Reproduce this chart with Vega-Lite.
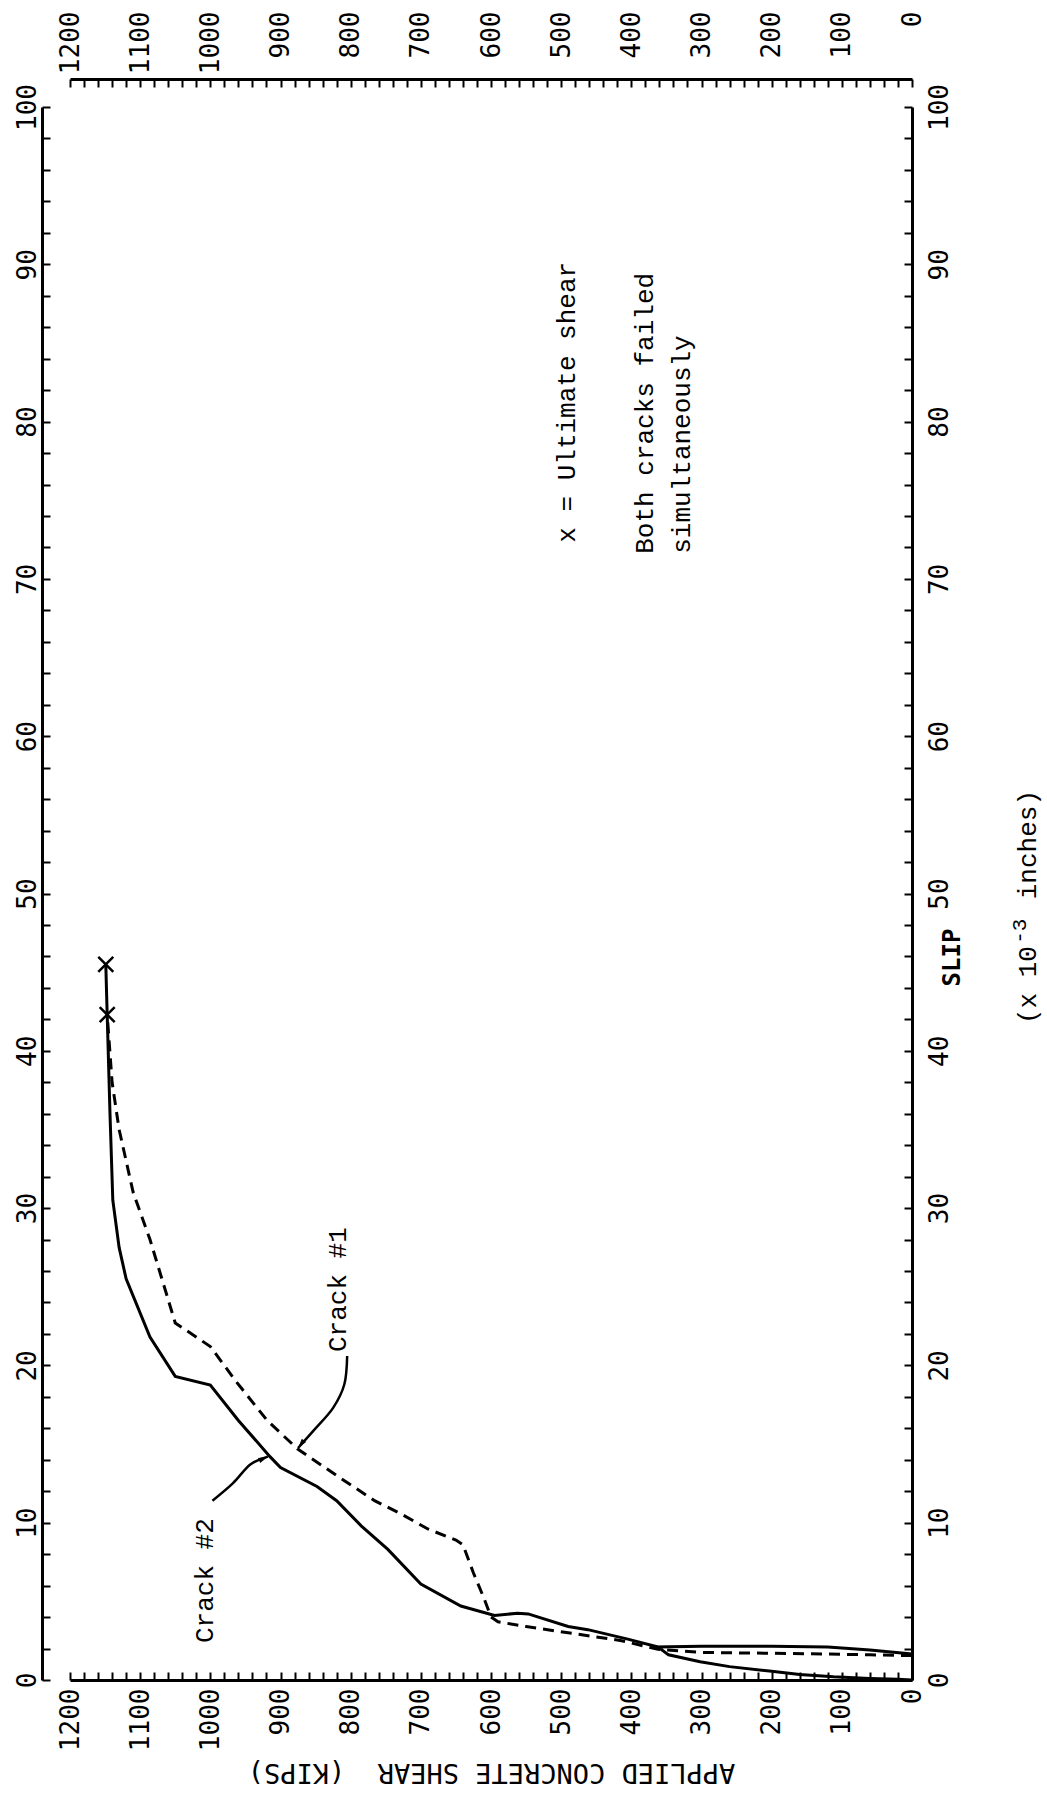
{
  "$schema": "https://vega.github.io/schema/vega-lite/v6.json",
  "width": 842,
  "height": 1573,
  "autosize": {"type": "none"},
  "padding": {"left": 70, "top": 107, "right": 135, "bottom": 121},
  "background": "white",
  "config": {"view": {"stroke": null}},
  "datasets": {
    "curves": [
      {"crack": "Crack #2", "i": 1, "shear": 0, "slip": 0},
      {"crack": "Crack #2", "i": 2, "shear": 20, "slip": 0.05},
      {"crack": "Crack #2", "i": 3, "shear": 60, "slip": 0.1},
      {"crack": "Crack #2", "i": 4, "shear": 112, "slip": 0.2},
      {"crack": "Crack #2", "i": 5, "shear": 160, "slip": 0.35},
      {"crack": "Crack #2", "i": 6, "shear": 200, "slip": 0.55},
      {"crack": "Crack #2", "i": 7, "shear": 260, "slip": 0.85},
      {"crack": "Crack #2", "i": 8, "shear": 302, "slip": 1.16},
      {"crack": "Crack #2", "i": 9, "shear": 347, "slip": 1.6},
      {"crack": "Crack #2", "i": 10, "shear": 362, "slip": 2.1},
      {"crack": "Crack #2", "i": 11, "shear": 300, "slip": 2.15},
      {"crack": "Crack #2", "i": 12, "shear": 200, "slip": 2.15},
      {"crack": "Crack #2", "i": 13, "shear": 120, "slip": 2.1},
      {"crack": "Crack #2", "i": 14, "shear": 60, "slip": 1.9},
      {"crack": "Crack #2", "i": 15, "shear": 0, "slip": 1.65},
      {"crack": "Crack #2", "i": 16, "shear": 60, "slip": 1.9},
      {"crack": "Crack #2", "i": 17, "shear": 120, "slip": 2.1},
      {"crack": "Crack #2", "i": 18, "shear": 200, "slip": 2.15},
      {"crack": "Crack #2", "i": 19, "shear": 300, "slip": 2.15},
      {"crack": "Crack #2", "i": 20, "shear": 362, "slip": 2.1},
      {"crack": "Crack #2", "i": 21, "shear": 405, "slip": 2.6},
      {"crack": "Crack #2", "i": 22, "shear": 462, "slip": 3.2},
      {"crack": "Crack #2", "i": 23, "shear": 490, "slip": 3.4},
      {"crack": "Crack #2", "i": 24, "shear": 547, "slip": 4.2},
      {"crack": "Crack #2", "i": 25, "shear": 562, "slip": 4.25},
      {"crack": "Crack #2", "i": 26, "shear": 595, "slip": 4.1},
      {"crack": "Crack #2", "i": 27, "shear": 643, "slip": 4.7},
      {"crack": "Crack #2", "i": 28, "shear": 700, "slip": 6.1},
      {"crack": "Crack #2", "i": 29, "shear": 747, "slip": 8.3},
      {"crack": "Crack #2", "i": 30, "shear": 785, "slip": 9.8},
      {"crack": "Crack #2", "i": 31, "shear": 820, "slip": 11.4},
      {"crack": "Crack #2", "i": 32, "shear": 848, "slip": 12.3},
      {"crack": "Crack #2", "i": 33, "shear": 900, "slip": 13.5},
      {"crack": "Crack #2", "i": 34, "shear": 915, "slip": 14.2},
      {"crack": "Crack #2", "i": 35, "shear": 960, "slip": 16.5},
      {"crack": "Crack #2", "i": 36, "shear": 1000, "slip": 18.75},
      {"crack": "Crack #2", "i": 37, "shear": 1050, "slip": 19.3},
      {"crack": "Crack #2", "i": 38, "shear": 1086, "slip": 21.8},
      {"crack": "Crack #2", "i": 39, "shear": 1120, "slip": 25.5},
      {"crack": "Crack #2", "i": 40, "shear": 1130, "slip": 27.5},
      {"crack": "Crack #2", "i": 41, "shear": 1139, "slip": 30.5},
      {"crack": "Crack #2", "i": 42, "shear": 1143, "slip": 36},
      {"crack": "Crack #2", "i": 43, "shear": 1147, "slip": 42.3},
      {"crack": "Crack #2", "i": 44, "shear": 1149, "slip": 45.5},
      {"crack": "Crack #1", "i": 1, "shear": 0, "slip": 1.55},
      {"crack": "Crack #1", "i": 2, "shear": 60, "slip": 1.6},
      {"crack": "Crack #1", "i": 3, "shear": 120, "slip": 1.65},
      {"crack": "Crack #1", "i": 4, "shear": 200, "slip": 1.7},
      {"crack": "Crack #1", "i": 5, "shear": 300, "slip": 1.75},
      {"crack": "Crack #1", "i": 6, "shear": 362, "slip": 1.95},
      {"crack": "Crack #1", "i": 7, "shear": 414, "slip": 2.5},
      {"crack": "Crack #1", "i": 8, "shear": 490, "slip": 3.0},
      {"crack": "Crack #1", "i": 9, "shear": 550, "slip": 3.4},
      {"crack": "Crack #1", "i": 10, "shear": 590, "slip": 3.7},
      {"crack": "Crack #1", "i": 11, "shear": 600, "slip": 4.0},
      {"crack": "Crack #1", "i": 12, "shear": 610, "slip": 5.2},
      {"crack": "Crack #1", "i": 13, "shear": 625, "slip": 6.8},
      {"crack": "Crack #1", "i": 14, "shear": 640, "slip": 8.6},
      {"crack": "Crack #1", "i": 15, "shear": 650, "slip": 8.9},
      {"crack": "Crack #1", "i": 16, "shear": 690, "slip": 9.6},
      {"crack": "Crack #1", "i": 17, "shear": 730, "slip": 10.6},
      {"crack": "Crack #1", "i": 18, "shear": 766, "slip": 11.4},
      {"crack": "Crack #1", "i": 19, "shear": 820, "slip": 13.0},
      {"crack": "Crack #1", "i": 20, "shear": 876, "slip": 14.7},
      {"crack": "Crack #1", "i": 21, "shear": 919, "slip": 16.5},
      {"crack": "Crack #1", "i": 22, "shear": 962, "slip": 18.9},
      {"crack": "Crack #1", "i": 23, "shear": 1000, "slip": 21.2},
      {"crack": "Crack #1", "i": 24, "shear": 1050, "slip": 22.7},
      {"crack": "Crack #1", "i": 25, "shear": 1086, "slip": 28},
      {"crack": "Crack #1", "i": 26, "shear": 1110, "slip": 31},
      {"crack": "Crack #1", "i": 27, "shear": 1130, "slip": 35},
      {"crack": "Crack #1", "i": 28, "shear": 1140, "slip": 38},
      {"crack": "Crack #1", "i": 29, "shear": 1147, "slip": 42.3}
    ],
    "arrows": [
      {"arrow": "a1", "i": 1, "shear": 805, "slip": 20.6},
      {"arrow": "a1", "i": 2, "shear": 809, "slip": 18.8},
      {"arrow": "a1", "i": 3, "shear": 825, "slip": 17.3},
      {"arrow": "a1", "i": 4, "shear": 852, "slip": 15.9},
      {"arrow": "a1", "i": 5, "shear": 875, "slip": 14.75},
      {"arrow": "a2", "i": 1, "shear": 997, "slip": 11.4},
      {"arrow": "a2", "i": 2, "shear": 968, "slip": 12.5},
      {"arrow": "a2", "i": 3, "shear": 943, "slip": 13.7},
      {"arrow": "a2", "i": 4, "shear": 918, "slip": 14.2}
    ],
    "heads": [
      {"arrow": "a1", "shear": 875, "slip": 14.75},
      {"arrow": "a2", "shear": 918, "slip": 14.2}
    ],
    "ults": [
      {"crack": "Crack #2", "shear": 1149, "slip": 45.5},
      {"crack": "Crack #1", "shear": 1147, "slip": 42.3}
    ],
    "notes": [
      {"label": "x = Ultimate shear", "shear": 480, "slip": 72.3},
      {"label": "Both cracks failed", "shear": 369, "slip": 71.6},
      {"label": "simultaneously", "shear": 316, "slip": 71.6},
      {"label": "Crack #1", "shear": 806, "slip": 20.85},
      {"label": "Crack #2", "shear": 996, "slip": 2.35},
      {"label": "(x 10\u00a0\u00a0\u00a0inches)", "shear": -177, "slip": 41.7}
    ],
    "sup": [
      {"label": "-3", "shear": -163, "slip": 46.8}
    ]
  },
  "encoding": {
    "x": {"field": "shear", "type": "quantitative", "scale": {"domain": [0, 1200], "reverse": true, "nice": false, "zero": false}, "axis": null},
    "y": {"field": "slip", "type": "quantitative", "scale": {"domain": [0, 100], "nice": false, "zero": false}, "axis": null}
  },
  "layer": [
    {
      "data": {"name": "curves"},
      "transform": [{"filter": "datum.crack === 'Crack #2'"}],
      "mark": {"type": "line", "color": "black", "strokeWidth": 3, "clip": false},
      "encoding": {
        "x": {"field": "shear", "type": "quantitative", "scale": {"domain": [0, 1200], "reverse": true, "nice": false, "zero": false},
          "axis": {"orient": "bottom", "values": [0,20,40,60,80,100,120,140,160,180,200,220,240,260,280,300,320,340,360,380,400,420,440,460,480,500,520,540,560,580,600,620,640,660,680,700,720,740,760,780,800,820,840,860,880,900,920,940,960,980,1000,1020,1040,1060,1080,1100,1120,1140,1160,1180,1200],
            "format": "d", "labelExpr": "datum.value % 100 === 0 ? datum.label : ''",
            "labelAngle": 270, "labelAlign": "right", "labelBaseline": "middle", "labelPadding": 16,
            "tickSize": -8, "tickWidth": 2, "tickColor": "black", "domainWidth": 3, "domainColor": "black",
            "labelFont": "DejaVu Sans Mono", "labelFontSize": 26, "labelColor": "black",
            "labelFlush": false, "labelOverlap": false, "labelBound": false, "grid": false,
            "title": "APPLIED CONCRETE SHEAR\u00a0\u00a0(KIPS)", "titleAngle": 180, "titleX": 421, "titleY": 91,
            "titleAlign": "center", "titleBaseline": "middle", "titleFont": "DejaVu Sans Mono", "titleFontSize": 27,
            "titleFontWeight": "normal", "titleColor": "black"}},
        "y": {"field": "slip", "type": "quantitative", "scale": {"domain": [0, 100], "nice": false, "zero": false},
          "axis": {"orient": "left", "offset": 28, "values": [0,2,4,6,8,10,12,14,16,18,20,22,24,26,28,30,32,34,36,38,40,42,44,46,48,50,52,54,56,58,60,62,64,66,68,70,72,74,76,78,80,82,84,86,88,90,92,94,96,98,100],
            "labelExpr": "datum.value % 10 === 0 ? datum.label : ''",
            "labelAngle": 270, "labelAlign": "center", "labelBaseline": "alphabetic", "labelPadding": 15,
            "tickSize": -8, "tickWidth": 2, "tickColor": "black", "domainWidth": 3, "domainColor": "black",
            "labelFont": "DejaVu Sans Mono", "labelFontSize": 26, "labelColor": "black",
            "labelFlush": false, "labelOverlap": false, "labelBound": false, "grid": false, "title": null}},
        "order": {"field": "i", "type": "quantitative"}
      }
    },
    {
      "data": {"name": "curves"},
      "transform": [{"filter": "datum.crack === 'Crack #1'"}],
      "mark": {"type": "line", "color": "black", "strokeWidth": 3, "strokeDash": [11, 7], "clip": false},
      "encoding": {
        "x": {"field": "shear", "type": "quantitative", "scale": {"domain": [0, 1200], "reverse": true, "nice": false, "zero": false},
          "axis": {"orient": "top", "offset": 28, "values": [0,20,40,60,80,100,120,140,160,180,200,220,240,260,280,300,320,340,360,380,400,420,440,460,480,500,520,540,560,580,600,620,640,660,680,700,720,740,760,780,800,820,840,860,880,900,920,940,960,980,1000,1020,1040,1060,1080,1100,1120,1140,1160,1180,1200],
            "format": "d", "labelExpr": "datum.value % 100 === 0 ? datum.label : ''",
            "labelAngle": 270, "labelAlign": "right", "labelBaseline": "middle", "labelPadding": 76,
            "tickSize": -8, "tickWidth": 2, "tickColor": "black", "domainWidth": 3, "domainColor": "black",
            "labelFont": "DejaVu Sans Mono", "labelFontSize": 26, "labelColor": "black",
            "labelFlush": false, "labelOverlap": false, "labelBound": false, "grid": false, "title": null}},
        "y": {"field": "slip", "type": "quantitative", "scale": {"domain": [0, 100], "nice": false, "zero": false},
          "axis": {"orient": "right", "values": [0,2,4,6,8,10,12,14,16,18,20,22,24,26,28,30,32,34,36,38,40,42,44,46,48,50,52,54,56,58,60,62,64,66,68,70,72,74,76,78,80,82,84,86,88,90,92,94,96,98,100],
            "labelExpr": "datum.value % 10 === 0 ? datum.label : ''",
            "labelAngle": 270, "labelAlign": "center", "labelBaseline": "alphabetic", "labelPadding": 43,
            "tickSize": -8, "tickWidth": 2, "tickColor": "black", "domainWidth": 3, "domainColor": "black",
            "labelFont": "DejaVu Sans Mono", "labelFontSize": 26, "labelColor": "black",
            "labelFlush": false, "labelOverlap": false, "labelBound": false, "grid": false,
            "title": "SLIP", "titleAngle": 270, "titleX": 40, "titleY": 850, "titleAlign": "center", "titleBaseline": "middle",
            "titleFont": "DejaVu Sans Mono", "titleFontSize": 24, "titleFontWeight": "bold", "titleColor": "black"}},
        "order": {"field": "i", "type": "quantitative"}
      }
    },
    {
      "data": {"name": "arrows"},
      "mark": {"type": "line", "color": "black", "strokeWidth": 2.5, "interpolate": "cardinal", "clip": false},
      "encoding": {
        "detail": {"field": "arrow", "type": "nominal"},
        "order": {"field": "i", "type": "quantitative"}
      }
    },
    {
      "data": {"name": "heads"},
      "transform": [{"filter": "datum.arrow === 'a1'"}],
      "mark": {"type": "point", "shape": "M0,0L-0.45,1.6L0.45,1.6Z", "size": 144, "filled": true, "color": "black", "opacity": 1, "angle": 218}
    },
    {
      "data": {"name": "heads"},
      "transform": [{"filter": "datum.arrow === 'a2'"}],
      "mark": {"type": "point", "shape": "M0,0L-0.45,1.6L0.45,1.6Z", "size": 144, "filled": true, "color": "black", "opacity": 1, "angle": 66}
    },
    {
      "data": {"name": "ults"},
      "mark": {"type": "point", "shape": "M-1,-1L1,1M-1,1L1,-1", "size": 225, "filled": false, "color": "black", "strokeWidth": 2.5, "opacity": 1}
    },
    {
      "data": {"name": "notes"},
      "mark": {"type": "text", "angle": 270, "align": "left", "baseline": "alphabetic", "font": "Liberation Mono", "fontSize": 26, "color": "black"},
      "encoding": {"text": {"field": "label"}}
    },
    {
      "data": {"name": "sup"},
      "mark": {"type": "text", "angle": 270, "align": "left", "baseline": "alphabetic", "font": "Liberation Mono", "fontSize": 21, "color": "black"},
      "encoding": {"text": {"field": "label"}}
    }
  ],
  "resolve": {"axis": {"x": "independent", "y": "independent"}}
}
